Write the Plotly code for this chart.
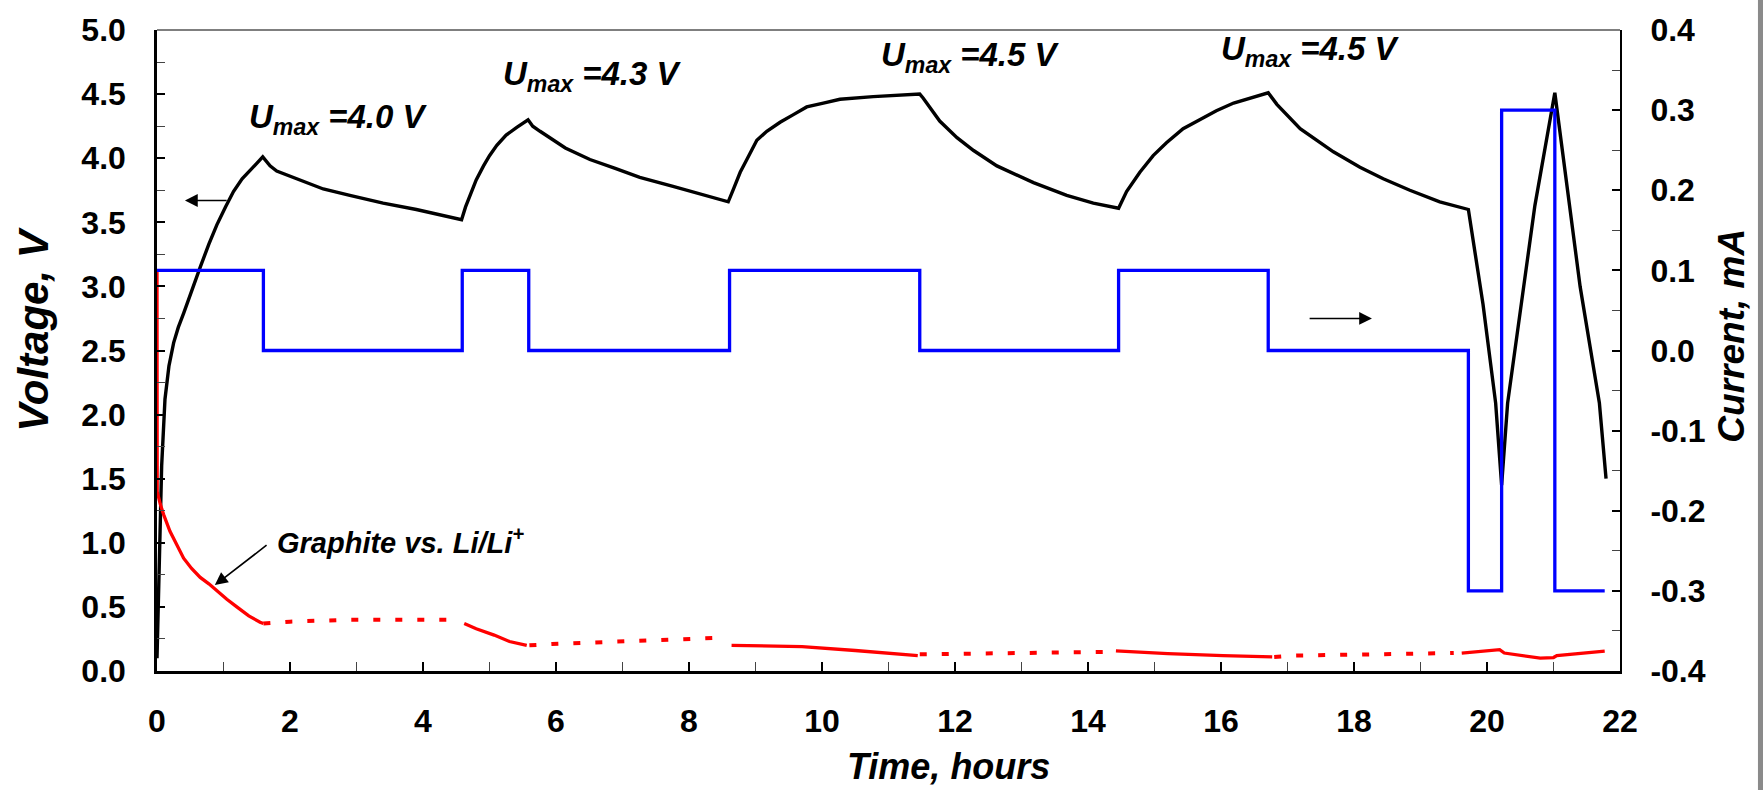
import plotly.graph_objects as go

# ---- Cell voltage (black), hours / volts ----
cell_t = [0.00, 0.02, 0.04, 0.07, 0.12, 0.18, 0.25, 0.32, 0.40, 0.52, 0.65, 0.78, 0.90, 1.03, 1.15, 1.28, 1.40, 1.50, 1.59,
          1.70, 1.80, 2.15, 2.50, 2.90, 3.40, 3.90, 4.58,
          4.64, 4.71, 4.80, 4.91, 5.00, 5.11, 5.25, 5.41, 5.50, 5.58,
          5.65, 5.76, 6.14, 6.51, 6.89, 7.26, 7.76, 8.17, 8.59,
          8.67, 8.77, 8.87, 9.02, 9.17, 9.37, 9.57, 9.77, 10.02, 10.27, 10.77, 11.47,
          11.52, 11.77, 12.03, 12.28, 12.63, 13.18, 13.68, 14.08, 14.46,
          14.58, 14.78, 14.98, 15.18, 15.43, 15.68, 15.93, 16.19, 16.44, 16.71,
          16.84, 17.19, 17.69, 18.09, 18.44, 18.84, 19.29, 19.72,
          19.94, 20.13, 20.22,
          20.31, 20.72, 21.02,
          21.40, 21.69, 21.79]
cell_v = [0.10, 0.60, 1.10, 1.60, 2.12, 2.38, 2.56, 2.68, 2.79, 2.97, 3.15, 3.33, 3.48, 3.62, 3.74, 3.84, 3.91, 3.96, 4.01,
          3.94, 3.90, 3.83, 3.76, 3.71, 3.65, 3.60, 3.52,
          3.62, 3.71, 3.83, 3.94, 4.02, 4.10, 4.18, 4.24, 4.27, 4.30,
          4.25, 4.21, 4.08, 3.99, 3.92, 3.85, 3.78, 3.72, 3.66,
          3.76, 3.89, 3.99, 4.14, 4.21, 4.28, 4.34, 4.40, 4.43, 4.46, 4.48, 4.50,
          4.47, 4.29, 4.16, 4.06, 3.94, 3.81, 3.71, 3.65, 3.61,
          3.74, 3.89, 4.02, 4.12, 4.23, 4.30, 4.37, 4.43, 4.47, 4.51,
          4.42, 4.23, 4.05, 3.93, 3.84, 3.75, 3.66, 3.60,
          2.86, 2.09, 1.45,
          2.09, 3.63, 4.51,
          3.00, 2.09, 1.50]

# ---- Applied current (blue), step changes ----
step_t = [0.00, 1.60, 4.59, 5.59, 8.61, 11.47, 14.46, 16.71, 19.72, 20.22, 21.02, 21.77]
step_i = [0.10, 0.00, 0.10, 0.00, 0.10, 0.00, 0.10, 0.00, -0.30, 0.30, -0.30, -0.30]

# ---- Graphite vs. Li/Li+ (red): solid while current flows, dotted at rest ----
gr_on_t = [0.00, 0.003, 0.05, 0.10, 0.195, 0.30, 0.40, 0.52, 0.65, 0.78, 0.90, 1.05, 1.20, 1.38, 1.55, 1.60, None,
           4.62, 4.80, 5.07, 5.30, 5.56, None,
           8.64, 9.70, 10.50, 11.44, None,
           14.42, 15.20, 16.03, 16.77, None,
           19.62, 20.19, 20.26, 20.80, 21.00, 21.05, 21.77]
gr_on_v = [3.12, 1.40, 1.30, 1.22, 1.09, 0.98, 0.88, 0.80, 0.73, 0.68, 0.625, 0.56, 0.50, 0.43, 0.38, 0.37, None,
           0.37, 0.33, 0.28, 0.23, 0.20, None,
           0.20, 0.19, 0.16, 0.12, None,
           0.157, 0.135, 0.12, 0.11, None,
           0.14, 0.167, 0.14, 0.10, 0.105, 0.12, 0.155]
gr_rest_t = [1.60, 2.00, 2.90, 4.56, None,
             5.60, 5.94, 7.20, 8.53, None,
             11.47, 12.78, 14.12, 14.40, None,
             16.80, 17.07, 18.30, 19.50]
gr_rest_v = [0.37, 0.385, 0.40, 0.40, None,
             0.20, 0.21, 0.235, 0.26, None,
             0.13, 0.14, 0.15, 0.15, None,
             0.11, 0.12, 0.13, 0.14]

v_ticks = [0.0, 0.5, 1.0, 1.5, 2.0, 2.5, 3.0, 3.5, 4.0, 4.5, 5.0]
i_ticks = [-0.4, -0.3, -0.2, -0.1, 0.0, 0.1, 0.2, 0.3, 0.4]
i_labels = ["-0.4", "-0.3", "-0.2", "-0.1", "0.0", "0.1", "0.2", "0.3", "0.4"]
t_ticks = [0, 2, 4, 6, 8, 10, 12, 14, 16, 18, 20, 22]

FONT = "Liberation Sans, Arial, sans-serif"

fig = go.Figure()
fig.add_trace(go.Scatter(x=step_t, y=step_i, yaxis="y2", mode="lines", line_shape="hv",
                         line=dict(color="#0000ff", width=3.3), showlegend=False))
fig.add_trace(go.Scatter(x=cell_t, y=cell_v, mode="lines",
                         line=dict(color="black", width=3.4), showlegend=False))
fig.add_trace(go.Scatter(x=gr_on_t, y=gr_on_v, mode="lines", connectgaps=False,
                         line=dict(color="#ff0000", width=3.3), showlegend=False))
fig.add_trace(go.Scatter(x=gr_rest_t, y=gr_rest_v, mode="lines", connectgaps=False,
                         line=dict(color="#ff0000", width=4, dash="7px,15px"), showlegend=False))

tick_font = dict(family=FONT, size=32, color="black", weight="bold")

fig.update_layout(
    width=1763, height=790,
    margin=dict(l=157, r=143, t=23, b=119),
    paper_bgcolor="white", plot_bgcolor="white",
    xaxis=dict(range=[0, 22], tickvals=t_ticks, ticks="inside", ticklen=9, tickwidth=1.5,
               tickcolor="black", showline=True, linecolor="black", linewidth=2.5,
               showgrid=False, zeroline=False, tickfont=tick_font, ticklabelstandoff=20,
               minor=dict(ticks="inside", dtick=1, ticklen=9, tickwidth=1, tickcolor="#444")),
    yaxis=dict(range=[0, 5], tickvals=v_ticks, tickformat=".1f", ticks="inside", ticklen=8,
               tickwidth=1.5, tickcolor="black", showline=True, linecolor="black", linewidth=2.5,
               showgrid=False, zeroline=False, tickfont=tick_font, ticklabelstandoff=22,
               minor=dict(ticks="inside", dtick=0.25, ticklen=8, tickwidth=1, tickcolor="#444")),
    yaxis2=dict(range=[-0.4, 0.4], overlaying="y", side="right", tickvals=i_ticks, ticktext=i_labels,
                ticks="inside", ticklen=8, tickwidth=1.5, tickcolor="black", showline=True,
                linecolor="black", linewidth=2, showgrid=False, zeroline=False, tickfont=tick_font,
                ticklabelstandoff=22,
                minor=dict(ticks="inside", dtick=0.05, ticklen=8, tickwidth=1, tickcolor="#444")),
)

# thin frame line along the top of the plot area and the grey strip at the right edge
fig.add_shape(type="line", xref="paper", yref="paper", x0=0, x1=1, y0=1, y1=1,
              line=dict(color="#555", width=1.5))
fig.add_shape(type="rect", xref="paper", yref="paper", x0=1.0943, x1=1.1, y0=-0.2, y1=1.1,
              fillcolor="#8a8a8a", line=dict(width=0), layer="above")

fig.add_annotation(text="<b><i>Time, hours</i></b>", xref="paper", yref="paper",
                   x=(948 - 157) / 1463, y=(671 - 768) / 648, showarrow=False,
                   font=dict(family=FONT, size=36, color="black"),
                   xanchor="center", yanchor="middle")
fig.add_annotation(text="<b><i>Voltage, V</i></b>", xref="paper", yref="paper",
                   x=(34 - 157) / 1463, y=(671 - 326) / 648, showarrow=False,
                   font=dict(family=FONT, size=42, color="black"),
                   textangle=-90, xanchor="center", yanchor="middle")
fig.add_annotation(text="<b><i>Current, mA</i></b>", xref="paper", yref="paper",
                   x=(1732 - 157) / 1463, y=(671 - 332) / 648, showarrow=False,
                   font=dict(family=FONT, size=37, color="black"),
                   textangle=-90, xanchor="center", yanchor="middle")

label_font = dict(family=FONT, size=33, color="black")
umax_labels = [("4.0", 338, 113), ("4.3", 592, 70), ("4.5", 970, 50), ("4.5", 1310, 44)]
for val, px, py in umax_labels:
    fig.add_annotation(text="<b><i>U<sub>max</sub> =" + val + " V</i></b>", xref="x", yref="y",
                       x=(px - 157) / 66.5, y=(671 - py) / 129.6, showarrow=False, font=label_font,
                       xanchor="center", yanchor="middle")

fig.add_annotation(text="<b><i>Graphite vs. Li/Li<sup>+</sup></i></b>", xref="x", yref="y",
                   x=(275 - 157) / 66.5, y=(671 - 540) / 129.6, showarrow=False,
                   font=dict(family=FONT, size=29, color="black"),
                   xanchor="left", yanchor="middle")

# pointer arrows
arrow = dict(showarrow=True, arrowhead=2, arrowsize=1.6, arrowwidth=1.6, arrowcolor="black",
             xref="x", yref="y", axref="x", ayref="y", text="")
fig.add_annotation(x=0.87, y=0.67, ax=1.67, ay=0.99, **arrow)
fig.add_annotation(x=0.42, y=3.67, ax=1.07, ay=3.67, **arrow)
fig.add_annotation(x=18.27, y=2.75, ax=17.31, ay=2.75, **arrow)

fig.write_html("out.html")
